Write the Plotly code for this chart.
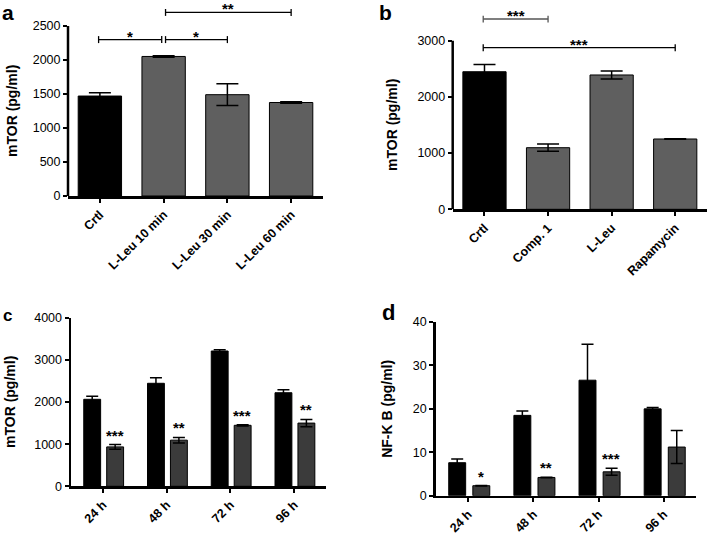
import plotly.graph_objects as go

# ---------------- data ----------------
cats_a = ["Crtl", "L-Leu 10 min", "L-Leu 30 min", "L-Leu 60 min"]
vals_a = [1470, 2052, 1490, 1375]
err_a = [50, 12, 160, 10]
sig_a = [(0, 1, 2300, "*"), (1, 2, 2300, "*"), (1, 3, 2700, "**")]

cats_b = ["Crtl", "Comp. 1", "L-Leu", "Rapamycin"]
vals_b = [2448, 1096, 2390, 1251]
err_b = [130, 65, 70, 5]
sig_b = [(0, 1, 3386, "***"), (0, 3, 2876, "***")]

cats_c = ["24 h", "48 h", "72 h", "96 h"]
ctrl_c = [2064, 2444, 3210, 2220]
ctrl_c_err = [75, 133, 30, 70]
trt_c = [935, 1095, 1447, 1500]
trt_c_err = [55, 65, 15, 85]
stars_c = ["***", "**", "***", "**"]

cats_d = ["24 h", "48 h", "72 h", "96 h"]
ctrl_d = [7.6, 18.5, 26.6, 20.0]
ctrl_d_err = [0.85, 1.0, 8.3, 0.3]
trt_d = [2.3, 4.2, 5.5, 11.2]
trt_d_err = [0.05, 0.05, 0.8, 3.8]
stars_d = ["*", "**", "***", ""]

# ---------------- style ----------------
FONT = "Liberation Sans"
BLACK = "#000000"
GRAY_AB = "#5f5f5f"
GRAY_CD = "#3b3b3b"
W, H = 708, 534

fig = go.Figure()


def px_x(p):
    return p / W


def px_y(p):
    return 1 - p / H


def eb(arr, width):
    return dict(type="data", array=arr, visible=True, color=BLACK, thickness=1.5, width=width)


# panel a
fig.add_trace(go.Bar(x=cats_a, y=vals_a, width=0.68, xaxis="x", yaxis="y",
                     marker=dict(color=[BLACK, GRAY_AB, GRAY_AB, GRAY_AB],
                                 line=dict(color=BLACK, width=1)),
                     error_y=eb(err_a, 11)))
# panel b
fig.add_trace(go.Bar(x=cats_b, y=vals_b, width=0.68, xaxis="x2", yaxis="y2",
                     marker=dict(color=[BLACK, GRAY_AB, GRAY_AB, GRAY_AB],
                                 line=dict(color=BLACK, width=1)),
                     error_y=eb(err_b, 11)))
# panel c
fig.add_trace(go.Bar(x=cats_c, y=ctrl_c, width=0.265, offset=-0.30, xaxis="x3", yaxis="y3",
                     marker=dict(color=BLACK, line=dict(color=BLACK, width=1)),
                     error_y=eb(ctrl_c_err, 6)))
fig.add_trace(go.Bar(x=cats_c, y=trt_c, width=0.265, offset=0.06, xaxis="x3", yaxis="y3",
                     marker=dict(color=GRAY_CD, line=dict(color=BLACK, width=1)),
                     error_y=eb(trt_c_err, 6)))
# panel d
fig.add_trace(go.Bar(x=cats_d, y=ctrl_d, width=0.26, offset=-0.30, xaxis="x4", yaxis="y4",
                     marker=dict(color=BLACK, line=dict(color=BLACK, width=1)),
                     error_y=eb(ctrl_d_err, 6)))
fig.add_trace(go.Bar(x=cats_d, y=trt_d, width=0.26, offset=0.07, xaxis="x4", yaxis="y4",
                     marker=dict(color=GRAY_CD, line=dict(color=BLACK, width=1)),
                     error_y=eb(trt_d_err, 6)))

shapes = []
annotations = []
STAR_FONT = dict(family=FONT, size=15, color=BLACK)


def add_brackets(sigs, xref, yref, color_first=None):
    for k, (i, j, y, txt) in enumerate(sigs):
        x0 = i + (0.03 if k > 0 and i != 0 else -0.02)
        x1 = j - (0.03 if k == 0 and len(sigs) > 2 else 0)
        col = color_first if (color_first and k == 0) else BLACK
        shapes.append(dict(type="line", xref=xref, yref=yref, x0=x0, x1=x1, y0=y, y1=y,
                           line=dict(color=col, width=1.3)))
        for xe in (x0, x1):
            shapes.append(dict(type="line", xref=xref, yref=yref, xsizemode="pixel",
                               ysizemode="pixel", xanchor=xe, yanchor=y, x0=0, x1=0,
                               y0=-3.5, y1=3.5, line=dict(color=col, width=1.3)))
        annotations.append(dict(x=(x0 + x1) / 2, y=y, xref=xref, yref=yref, text="<b>%s</b>" % txt,
                                showarrow=False, yanchor="bottom", yshift=-6, borderpad=0,
                                font=STAR_FONT))


add_brackets(sig_a, "x", "y")
add_brackets(sig_b, "x2", "y2", color_first="#555555")

# y axis lines for a, b (stop at top tick)
shapes.append(dict(type="line", xref="x domain", yref="y", x0=0, x1=0, y0=0, y1=2500,
                   line=dict(color=BLACK, width=2.5)))
shapes.append(dict(type="line", xref="x2 domain", yref="y2", x0=0, x1=0, y0=0, y1=3000,
                   line=dict(color=BLACK, width=2.5)))

# stars above treated bars in c and d
for cats, vals, errs, stars, xr, yr in [(cats_c, trt_c, trt_c_err, stars_c, "x3", "y3"),
                                        (cats_d, trt_d, trt_d_err, stars_d, "x4", "y4")]:
    for k, c in enumerate(cats):
        if stars[k]:
            annotations.append(dict(x=k + 0.19, y=vals[k] + errs[k], xref=xr, yref=yr,
                                    text="<b>%s</b>" % stars[k], showarrow=False,
                                    yanchor="bottom", yshift=-1, font=STAR_FONT))

# y titles
ytitle_font = dict(family=FONT, size=14, color=BLACK)
for txt, xpx, yref, yv in [("<b>mTOR (pg/ml)</b>", 12, "y", 1250),
                           ("<b>mTOR (pg/ml)</b>", 392, "y2", 1500),
                           ("<b>mTOR (pg/ml)</b>", 10, "y3", 2000),
                           ("<b>NF-Κ B (pg/ml)</b>", 387, "y4", 20)]:
    annotations.append(dict(x=px_x(xpx), xref="paper", y=yv, yref=yref, text=txt,
                            textangle=-90, showarrow=False, xanchor="center",
                            yanchor="middle", font=ytitle_font))

# panel letters
for txt, xpx, ypx, sz, anc in [("a", 1, 0, 21, "top"), ("b", 378, 0, 21, "top"),
                               ("c", 2, 315, 17, "middle"), ("d", 381, 312, 22, "middle")]:
    annotations.append(dict(x=px_x(xpx), y=px_y(ypx), xref="paper", yref="paper",
                            text="<b>%s</b>" % txt, showarrow=False, xanchor="left",
                            yanchor=anc, borderpad=0,
                            font=dict(family=FONT, size=sz, color=BLACK)))

TICKFONT = dict(family=FONT, size=12.5, color=BLACK)


def xax(domain, anchor):
    return dict(domain=domain, anchor=anchor, type="category", range=[-0.5, 3.5],
                showline=True, linecolor=BLACK, linewidth=2.5, ticks="outside",
                ticklen=4, tickwidth=2, tickcolor=BLACK, tickangle=-45,
                tickfont=TICKFONT, showgrid=False, automargin=False,
                zeroline=False, fixedrange=True)


def yax(domain, anchor, rng, tickvals, showline=True):
    return dict(domain=domain, anchor=anchor, range=rng, tickmode="array",
                tickvals=tickvals, automargin=False,
                showline=showline, linecolor=BLACK, linewidth=2.5, ticks="outside",
                ticklen=4, tickwidth=2, tickcolor=BLACK, tickfont=TICKFONT,
                showgrid=False, zeroline=False, fixedrange=True)


fig.update_layout(
    width=W, height=H, margin=dict(l=0, r=0, t=0, b=0, autoexpand=False),
    paper_bgcolor="white", plot_bgcolor="white", showlegend=False,
    barmode="overlay",
    font=dict(family=FONT, size=12, color=BLACK),
    xaxis=xax([px_x(68), px_x(323)], "y"),
    xaxis2=xax([px_x(452.7), px_x(707)], "y2"),
    xaxis3=xax([px_x(71), px_x(326)], "y3"),
    xaxis4=xax([px_x(435.7), px_x(696.3)], "y4"),
    yaxis=yax([px_y(196), px_y(9)], "x", [0, 2750], [0, 500, 1000, 1500, 2000, 2500], showline=False),
    yaxis2=yax([px_y(209.3), px_y(15.4)], "x2", [0, 3450], [0, 1000, 2000, 3000], showline=False),
    yaxis3=yax([px_y(486.3), px_y(317.7)], "x3", [0, 4000], [0, 1000, 2000, 3000, 4000]),
    yaxis4=yax([px_y(495.7), px_y(322)], "x4", [0, 40], [0, 10, 20, 30, 40]),
    shapes=shapes, annotations=annotations,
)
fig.update_xaxes(tickprefix="<b>", ticksuffix="</b>")
fig.update_yaxes(tickprefix="<b>", ticksuffix="</b>")

fig.write_html("out.html", config=dict(displayModeBar=False, staticPlot=True),
               post_script="document.body.style.margin='0';document.body.style.overflow='hidden';")
